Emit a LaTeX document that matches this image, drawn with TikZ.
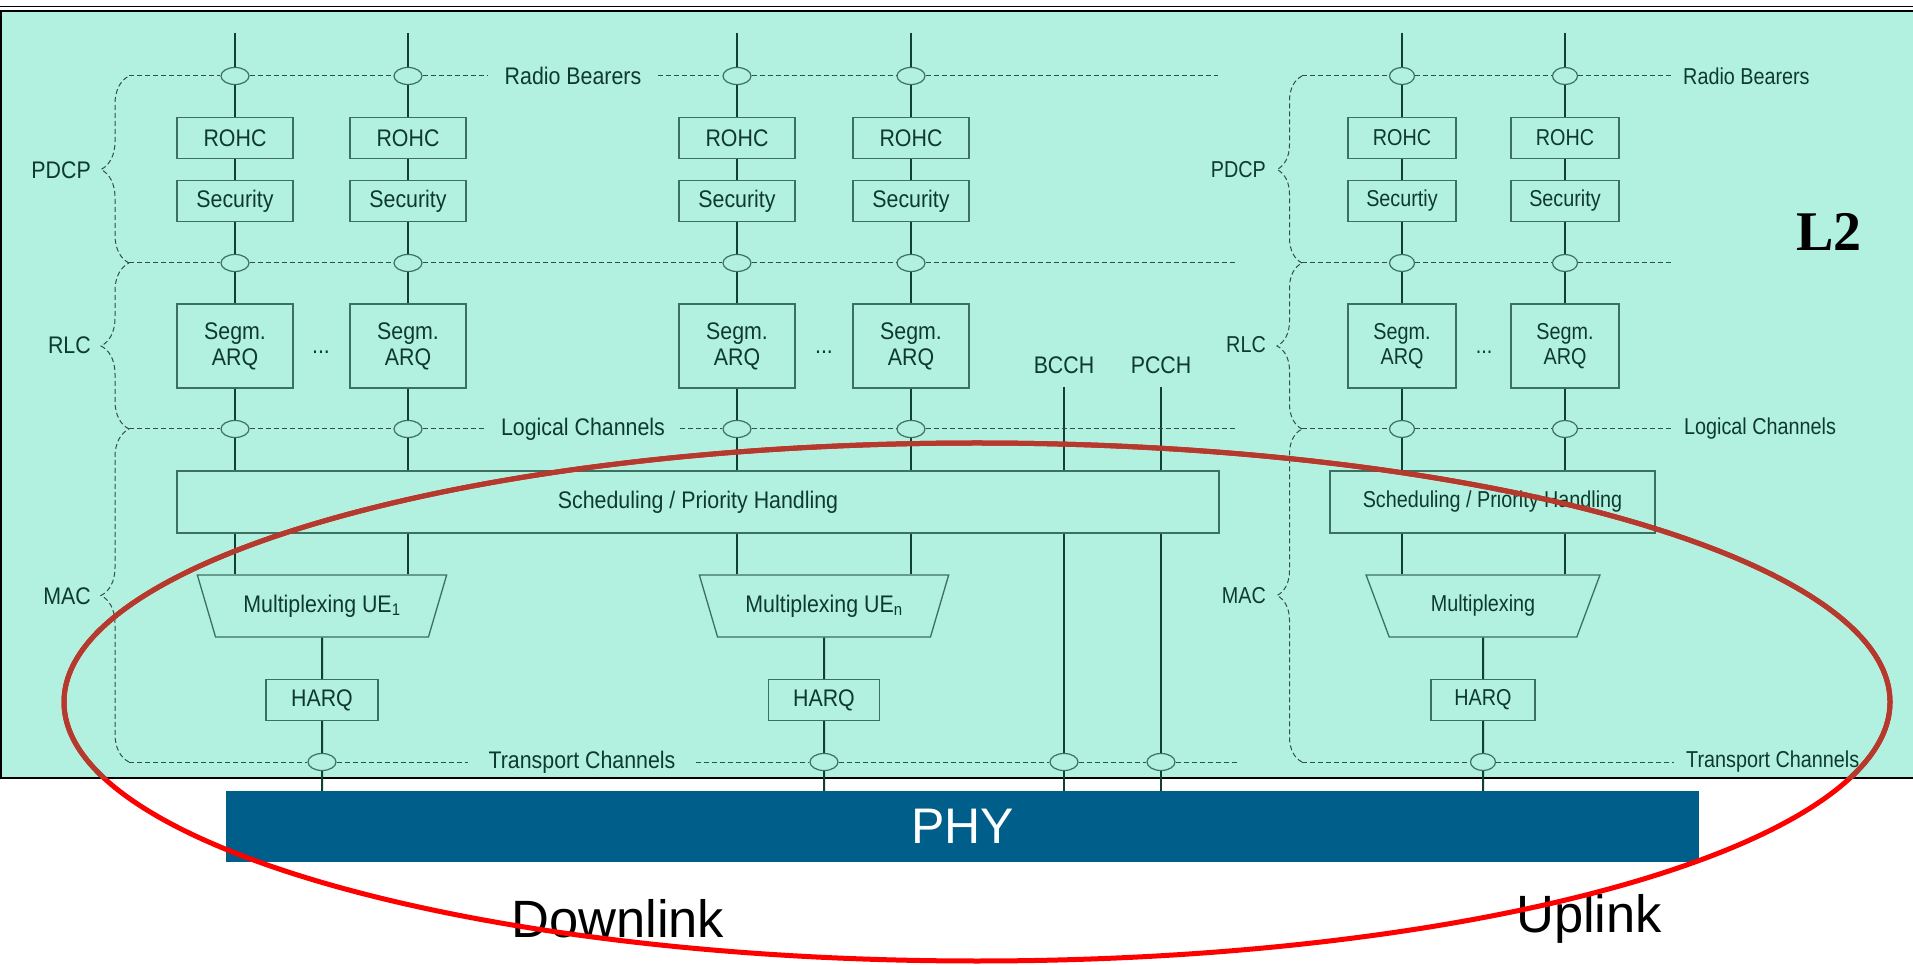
\documentclass[tikz,border=0pt]{standalone}
\usepackage{fontspec}
\setmainfont{Liberation Sans}
\newfontfamily\dlfamily{Liberation Sans}[FakeStretch=0.89]
\newfontfamily\ulfamily{Liberation Sans}[FakeStretch=0.86]
\newfontfamily\lserif{Liberation Serif}
\usetikzlibrary{shapes.geometric,positioning,decorations.pathreplacing}

\definecolor{l2green}{RGB}{178,240,224}
\definecolor{boxline}{RGB}{60,112,96}
\definecolor{chanline}{RGB}{16,64,48}
\definecolor{dashline}{RGB}{50,80,70}
\definecolor{labeltxt}{RGB}{14,58,44}
\definecolor{phyblue}{RGB}{0,94,138}
\definecolor{ovalred}{RGB}{255,0,0}
\definecolor{ovaldark}{RGB}{180,58,46}

\newcommand{\dlfnt}{\dlfamily\fontsize{24}{26}\selectfont}
\newcommand{\ulfnt}{\ulfamily\fontsize{23}{25}\selectfont}

\tikzstyle{block} = [draw=boxline, fill=l2green, rectangle, line width=1.3pt,
    minimum height=41pt, minimum width=116pt, inner sep=0pt,
    text=labeltxt, font=\dlfnt, align=center]
\tikzstyle{tallblock} = [block, minimum height=84pt]
\tikzstyle{ulblock} = [block, minimum width=108pt, font=\ulfnt]
\tikzstyle{ultallblock} = [ulblock, minimum height=84pt]
\tikzstyle{chanpoint} = [draw=boxline, fill=l2green, ellipse, line width=1.2pt,
    minimum width=28pt, minimum height=17pt, inner sep=0pt]
\tikzstyle{ulpoint} = [chanpoint, minimum width=25pt]
\tikzstyle{mux} = [draw=boxline, fill=l2green, trapezium, shape border rotate=180,
    trapezium angle=59, trapezium stretches=true, line width=1.3pt,
    minimum width=250pt, minimum height=62pt, inner sep=0pt,
    text=labeltxt, font=\dlfnt]
\tikzstyle{layerlabel} = [text=labeltxt, font=\dlfnt, inner sep=0pt]
\tikzstyle{ullabel} = [layerlabel, font=\ulfnt]
\tikzstyle{chan} = [draw=chanline, line width=2pt]
\tikzstyle{sap} = [draw=dashline, line width=1pt, dash pattern=on 5pt off 3pt]
\tikzstyle{layerbrace} = [decorate, decoration={brace, amplitude=28pt}]
\tikzstyle{ulbrace} = [decorate, decoration={brace, amplitude=25pt}]
\tikzstyle{oval} = [line width=5pt]

\begin{document}
\begin{tikzpicture}[x=1pt, y=1pt, on grid]
    \useasboundingbox (0,0) rectangle (1913,964);
    % L2 area with its frame
    \fill [l2green] (0,186) rectangle (1913,952);
    \draw [line width=1.8pt] (0,957.5) -- (1913,957.5);
    \draw [line width=1.8pt] (0,953) -- (1913,953);
    \draw [line width=1.5pt] (0.75,952) -- (0.75,186) -- (1913,186);

    % We start by placing the downlink columns
    \coordinate (topA) at (235,931);
    \node [chanpoint] (rbA) at (235,888) {};
    \node [block, below=62pt of rbA] (rohcA) {ROHC};
    \node [block, below=63pt of rohcA] (secA) {Security};
    \node [chanpoint, below=62pt of secA] (pdA) {};
    \node [tallblock, below=83pt of pdA] (segA) {Segm.\\ARQ};
    \node [chanpoint, below=83pt of segA] (lcA) {};

    \coordinate (topB) at (408,931);
    \node [chanpoint] (rbB) at (408,888) {};
    \node [block, below=62pt of rbB] (rohcB) {ROHC};
    \node [block, below=63pt of rohcB] (secB) {Security};
    \node [chanpoint, below=62pt of secB] (pdB) {};
    \node [tallblock, below=83pt of pdB] (segB) {Segm.\\ARQ};
    \node [chanpoint, below=83pt of segB] (lcB) {};

    \coordinate (topC) at (737,931);
    \node [chanpoint] (rbC) at (737,888) {};
    \node [block, below=62pt of rbC] (rohcC) {ROHC};
    \node [block, below=63pt of rohcC] (secC) {Security};
    \node [chanpoint, below=62pt of secC] (pdC) {};
    \node [tallblock, below=83pt of pdC] (segC) {Segm.\\ARQ};
    \node [chanpoint, below=83pt of segC] (lcC) {};

    \coordinate (topD) at (911,931);
    \node [chanpoint] (rbD) at (911,888) {};
    \node [block, below=62pt of rbD] (rohcD) {ROHC};
    \node [block, below=63pt of rohcD] (secD) {Security};
    \node [chanpoint, below=62pt of secD] (pdD) {};
    \node [tallblock, below=83pt of pdD] (segD) {Segm.\\ARQ};
    \node [chanpoint, below=83pt of segD] (lcD) {};

    \node [layerlabel] (dotsA) at (321,612) {...};
    \node [layerlabel] (dotsB) at (824,612) {...};

    % downlink MAC
    \node [block, minimum width=1042pt, minimum height=62pt] (schedDL) at (698,462)
        {Scheduling / Priority Handling};
    \node [mux] (muxA) at (322,358) {Multiplexing UE\textsubscript{1}};
    \node [mux] (muxB) at (824,358) {Multiplexing UE\textsubscript{n}};
    \node [block, minimum width=112pt, below=94pt of muxA] (harqA) {HARQ};
    \node [block, minimum width=111pt, below=94pt of muxB] (harqB) {HARQ};
    \node [chanpoint, below=62pt of harqA] (trA) {};
    \node [chanpoint, below=62pt of harqB] (trB) {};
    \node [layerlabel, inner ysep=13pt] (bcch) at (1064,599) {BCCH};
    \node [layerlabel, inner ysep=13pt, right=97pt of bcch] (pcch) {PCCH};
    \node [chanpoint] (trBcch) at (1064,202) {};
    \node [chanpoint, right=97pt of trBcch] (trPcch) {};

    % uplink columns
    \coordinate (topE) at (1402,931);
    \node [ulpoint] (rbE) at (1402,888) {};
    \node [ulblock, below=62pt of rbE] (rohcE) {ROHC};
    \node [ulblock, below=63pt of rohcE] (secE) {Securtiy};
    \node [ulpoint, below=62pt of secE] (pdE) {};
    \node [ultallblock, below=83pt of pdE] (segE) {Segm.\\ARQ};
    \node [ulpoint, below=83pt of segE] (lcE) {};

    \coordinate (topF) at (1565,931);
    \node [ulpoint] (rbF) at (1565,888) {};
    \node [ulblock, below=62pt of rbF] (rohcF) {ROHC};
    \node [ulblock, below=63pt of rohcF] (secF) {Security};
    \node [ulpoint, below=62pt of secF] (pdF) {};
    \node [ultallblock, below=83pt of pdF] (segF) {Segm.\\ARQ};
    \node [ulpoint, below=83pt of segF] (lcF) {};

    \node [ullabel] (dotsC) at (1484,612) {...};

    % uplink MAC
    \node [ulblock, minimum width=325pt, minimum height=62pt] (schedUL) at (1492.5,462)
        {Scheduling / Priority Handling};
    \node [mux, minimum width=234pt, font=\ulfnt] (muxC) at (1483,358) {Multiplexing};
    \node [ulblock, minimum width=104pt, below=94pt of muxC] (harqC) {HARQ};
    \node [ulpoint, below=62pt of harqC] (trC) {};

    % PHY and the big labels
    \node [fill=phyblue, minimum width=1473pt, minimum height=71pt, text=white,
        font=\fontsize{50}{60}\selectfont] (phy) at (962.5,137.5) {PHY};
    \node [anchor=base west, inner sep=0pt, font=\fontsize{52.5}{60}\selectfont]
        (downlink) at (511,27) {Downlink};
    \node [anchor=base west, inner sep=0pt, font=\fontsize{52.5}{60}\selectfont]
        (uplink) at (1516,32) {Uplink};
    \node [font=\lserif\bfseries\fontsize{56}{60}\selectfont] (ltwo) at (1829,732) {L2};

    % layer names and service access points
    \node [layerlabel, anchor=east] (pdcpDL) at (91,794) {PDCP};
    \node [layerlabel, anchor=east] (rlcDL) at (91,619) {RLC};
    \node [layerlabel, anchor=east] (macDL) at (91,368) {MAC};
    \node [ullabel, anchor=east] (pdcpUL) at (1266,794) {PDCP};
    \node [ullabel, anchor=east] (rlcUL) at (1266,619) {RLC};
    \node [ullabel, anchor=east] (macUL) at (1266,368) {MAC};
    \node [layerlabel, inner xsep=17pt] (rbLbl) at (573,888) {Radio Bearers};
    \node [layerlabel, inner xsep=15pt] (lcLbl) at (583,535) {Logical Channels};
    \node [layerlabel, inner xsep=20pt] (trLbl) at (582,202) {Transport Channels};
    \node [ullabel, anchor=west, inner xsep=10pt] (rbLblU) at (1673,888) {Radio Bearers};
    \node [ullabel, anchor=west, inner xsep=10pt] (lcLblU) at (1674,535) {Logical Channels};
    \node [ullabel, anchor=west, inner xsep=12pt] (trLblU) at (1674,202) {Transport Channels};

    \coordinate (sapRB) at (129,888);
    \coordinate (sapPD) at (129,701);
    \coordinate (sapLC) at (129,535);
    \coordinate (sapTR) at (129,202);
    \coordinate (rbEnd) at (1218,888);
    \coordinate (pdEnd) at (1237,701);
    \coordinate (lcEnd) at (1237,535);
    \coordinate (trEnd) at (1237,202);
    \coordinate (sapRBu) at (1302,888);
    \coordinate (sapPDu) at (1302,701);
    \coordinate (sapLCu) at (1302,535);
    \coordinate (sapTRu) at (1302,202);
    \coordinate (pdEndU) at (1673,701);

    % Once the nodes are placed, connecting them is easy.
    \draw [chan] (topA) -- (rbA) -- (rohcA) -- (secA) -- (pdA) -- (segA) -- (lcA)
        -- (lcA |- schedDL.north);
    \draw [chan] (topB) -- (rbB) -- (rohcB) -- (secB) -- (pdB) -- (segB) -- (lcB)
        -- (lcB |- schedDL.north);
    \draw [chan] (topC) -- (rbC) -- (rohcC) -- (secC) -- (pdC) -- (segC) -- (lcC)
        -- (lcC |- schedDL.north);
    \draw [chan] (topD) -- (rbD) -- (rohcD) -- (secD) -- (pdD) -- (segD) -- (lcD)
        -- (lcD |- schedDL.north);
    \draw [chan] (topE) -- (rbE) -- (rohcE) -- (secE) -- (pdE) -- (segE) -- (lcE)
        -- (lcE |- schedUL.north);
    \draw [chan] (topF) -- (rbF) -- (rohcF) -- (secF) -- (pdF) -- (segF) -- (lcF)
        -- (lcF |- schedUL.north);
    \draw [chan] (lcA |- schedDL.south) -- (lcA |- muxA.90);
    \draw [chan] (lcB |- schedDL.south) -- (lcB |- muxA.90);
    \draw [chan] (lcC |- schedDL.south) -- (lcC |- muxB.90);
    \draw [chan] (lcD |- schedDL.south) -- (lcD |- muxB.90);
    \draw [chan] (lcE |- schedUL.south) -- (lcE |- muxC.90);
    \draw [chan] (lcF |- schedUL.south) -- (lcF |- muxC.90);
    \draw [chan] (muxA) -- (harqA) -- (trA) -- (trA |- phy.north);
    \draw [chan] (muxB) -- (harqB) -- (trB) -- (trB |- phy.north);
    \draw [chan] (muxC) -- (harqC) -- (trC) -- (trC |- phy.north);
    \draw [chan] (bcch) -- (bcch |- schedDL.north);
    \draw [chan] (bcch |- schedDL.south) -- (trBcch) -- (trBcch |- phy.north);
    \draw [chan] (pcch) -- (pcch |- schedDL.north);
    \draw [chan] (pcch |- schedDL.south) -- (trPcch) -- (trPcch |- phy.north);

    % dashed access points and braces
    \draw [sap] (sapRB) -- (rbA) -- (rbB) -- (rbLbl) -- (rbC) -- (rbD) -- (rbEnd);
    \draw [sap] (sapPD) -- (pdA) -- (pdB) -- (pdC) -- (pdD) -- (pdEnd);
    \draw [sap] (sapLC) -- (lcA) -- (lcB) -- (lcLbl) -- (lcC) -- (lcD) -- (lcEnd);
    \draw [sap] (sapTR) -- (trA) -- (trLbl) -- (trB) -- (trBcch) -- (trPcch) -- (trEnd);
    \draw [sap, layerbrace] (sapPD) -- (sapRB);
    \draw [sap, layerbrace] (sapLC) -- (sapPD);
    \draw [sap, layerbrace] (sapTR) -- (sapLC);
    \draw [sap] (sapRBu) -- (rbE) -- (rbF) -- (rbLblU);
    \draw [sap] (sapPDu) -- (pdE) -- (pdF) -- (pdEndU);
    \draw [sap] (sapLCu) -- (lcE) -- (lcF) -- (lcLblU);
    \draw [sap] (sapTRu) -- (trC) -- (trLblU);
    \draw [sap, ulbrace] (sapPDu) -- (sapRBu);
    \draw [sap, ulbrace] (sapLCu) -- (sapPDu);
    \draw [sap, ulbrace] (sapTRu) -- (sapLCu);

    % highlight oval, darker where it lies on the L2 area
    \draw [oval, ovalred] (977,262) ellipse [x radius=913, y radius=259];
    \begin{scope}
        \clip (0,186) rectangle (1913,952);
        \draw [oval, ovaldark] (977,262) ellipse [x radius=913, y radius=259];
    \end{scope}
\end{tikzpicture}
\end{document}
